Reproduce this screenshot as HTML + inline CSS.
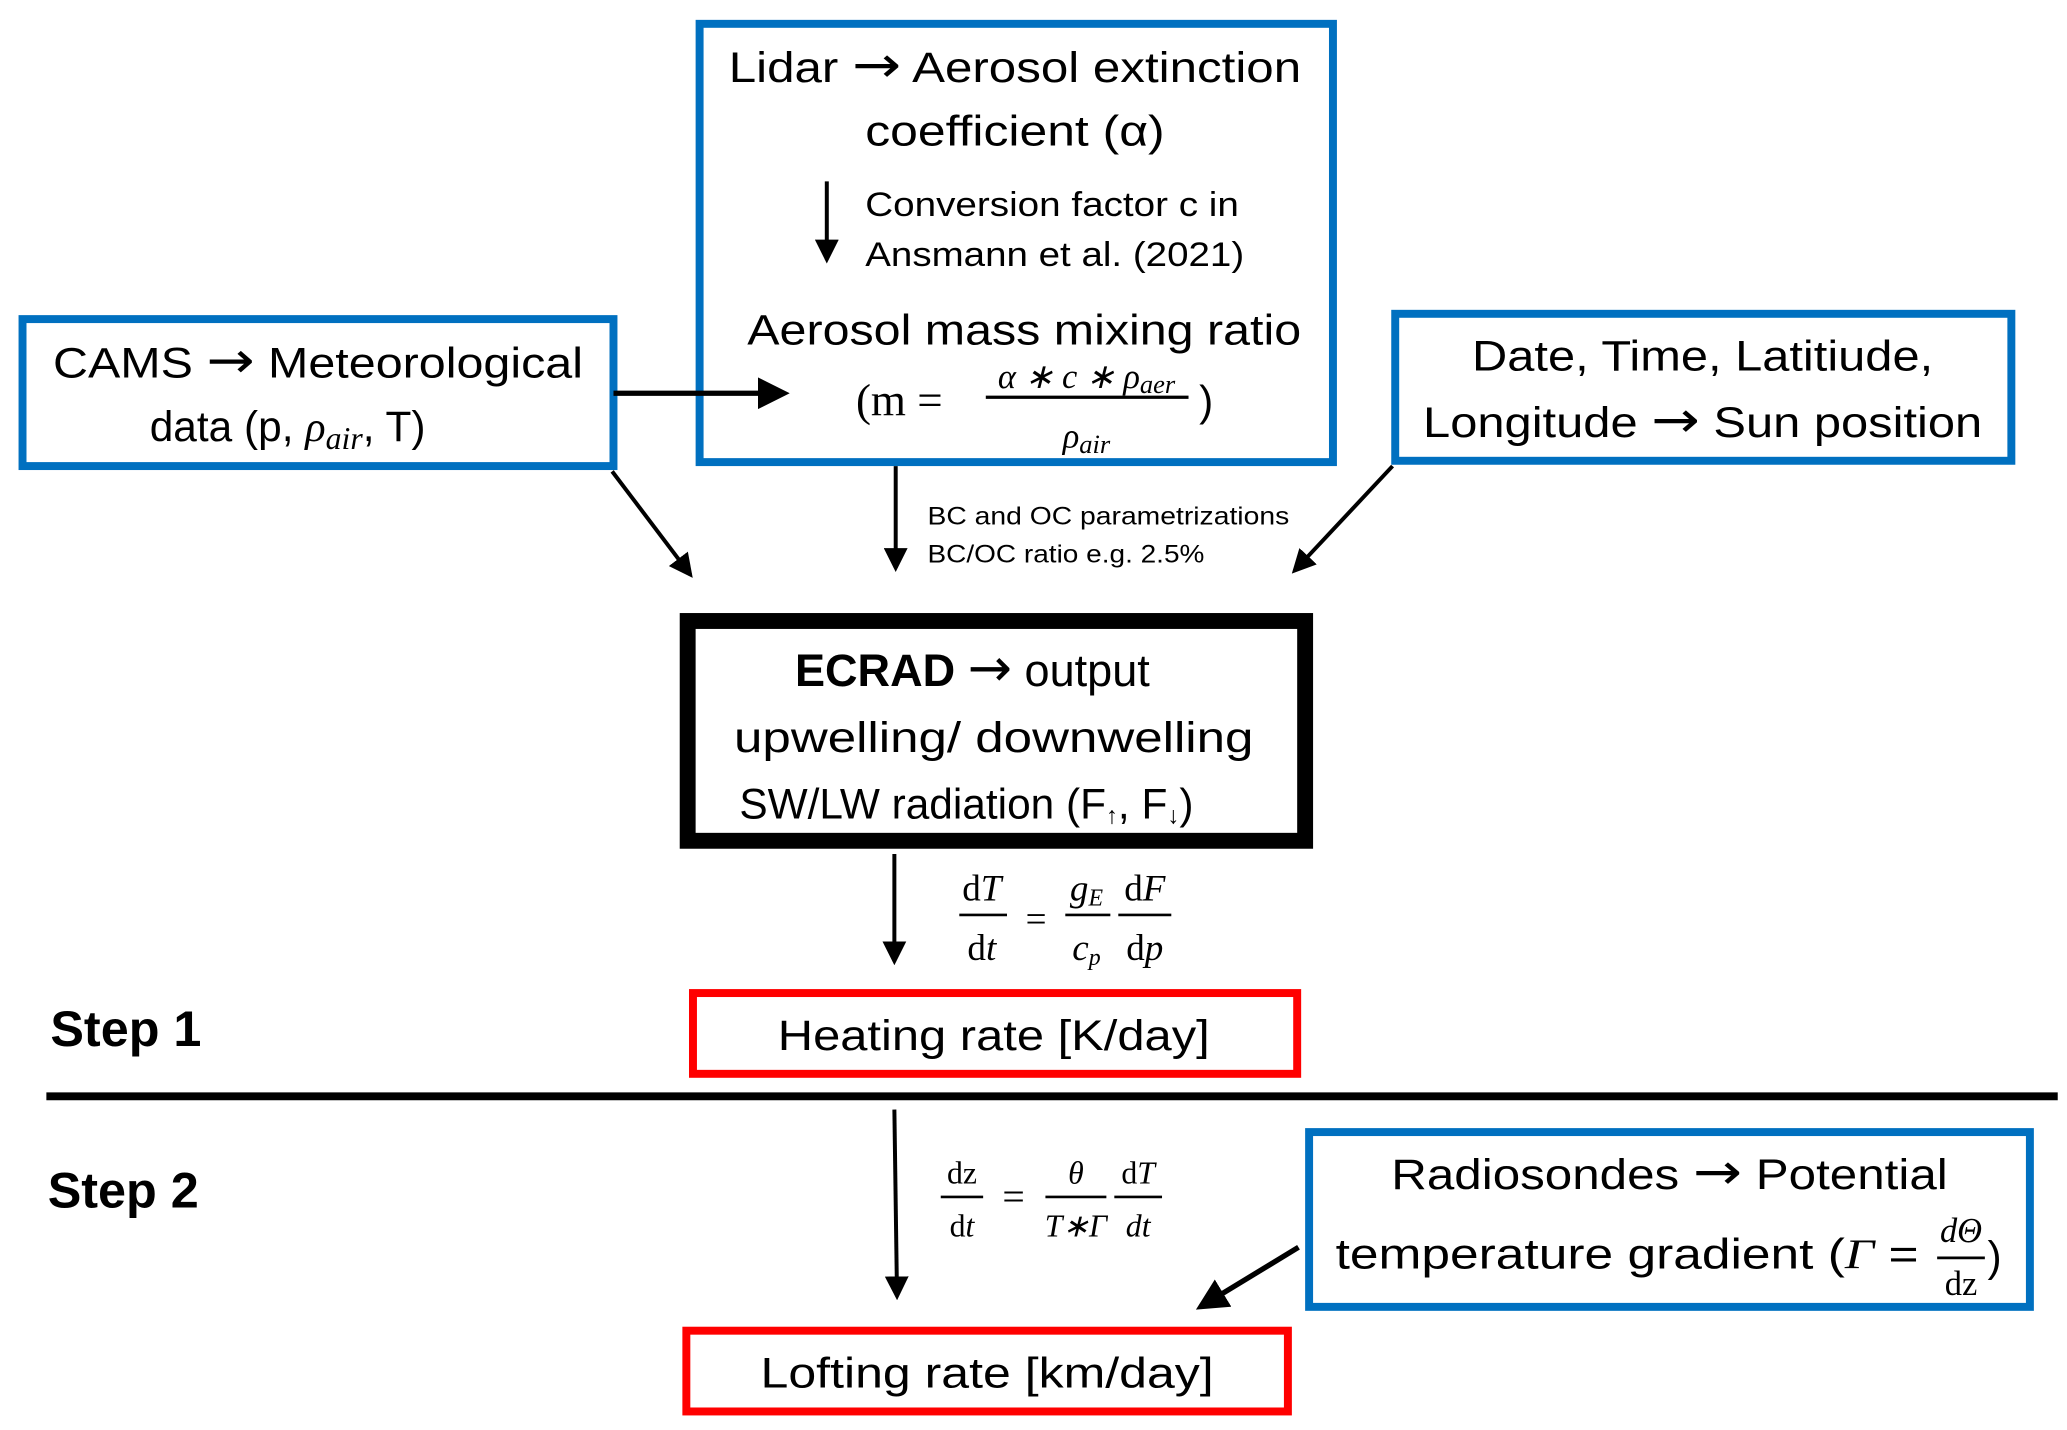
<!DOCTYPE html>
<html><head><meta charset="utf-8"><style>
html,body{margin:0;padding:0;background:#fff;}
svg{display:block;}
text{font-family:"Liberation Sans",sans-serif;fill:#000;}
.m{font-family:"Liberation Serif",serif;}
.ar{font-family:"DejaVu Sans",sans-serif;}
</style></head><body>
<svg width="2067" height="1430" viewBox="0 0 1560 1080" preserveAspectRatio="none" xmlns="http://www.w3.org/2000/svg">
<defs>
<marker id="ah" markerWidth="6" markerHeight="6" refX="5" refY="3" orient="auto" markerUnits="strokeWidth">
<path d="M0,0 L6,3 L0,6 z" fill="#000"/></marker>
</defs>
<g fill="none" stroke="#0070C0" stroke-width="6">
<rect x="528" y="18" width="478" height="331"/>
<rect x="17" y="241" width="446" height="111"/>
<rect x="1053" y="237" width="465" height="111"/>
<rect x="988" y="855" width="544" height="132"/>
</g>
<rect x="519" y="469" width="466" height="166" fill="none" stroke="#000" stroke-width="12"/>
<g fill="none" stroke="#FF0000" stroke-width="6">
<rect x="523" y="750" width="456" height="61"/>
<rect x="518" y="1005" width="454" height="61"/>
</g>
<line x1="35" y1="828" x2="1553" y2="828" stroke="#000" stroke-width="6"/>
<g stroke="#000" stroke-width="3" fill="none">
<line x1="624" y1="137" x2="624" y2="196" marker-end="url(#ah)"/>
<line x1="463" y1="297" x2="592" y2="297" stroke-width="4" marker-end="url(#ah)"/>
<line x1="462" y1="356" x2="521" y2="434" marker-end="url(#ah)"/>
<line x1="676" y1="352" x2="676" y2="429" marker-end="url(#ah)"/>
<line x1="1051" y1="352" x2="977" y2="431" marker-end="url(#ah)"/>
<line x1="675" y1="645" x2="675" y2="726" marker-end="url(#ah)"/>
<line x1="675" y1="838" x2="677" y2="979" marker-end="url(#ah)"/>
<line x1="980" y1="942" x2="906" y2="987" stroke-width="4" marker-end="url(#ah)"/>
</g>
<g font-size="32" text-anchor="middle">
<text x="766" y="62" textLength="432" lengthAdjust="spacingAndGlyphs">Lidar <tspan class="ar" font-size="38">→</tspan> Aerosol extinction</text>
<text x="766" y="110" textLength="226" lengthAdjust="spacingAndGlyphs">coefficient (α)</text>
<text x="773" y="260" textLength="418" lengthAdjust="spacingAndGlyphs">Aerosol mass mixing ratio</text>
<text x="240" y="285" textLength="400" lengthAdjust="spacingAndGlyphs">CAMS <tspan class="ar" font-size="38">→</tspan> Meteorological</text>
<text x="1285" y="280" textLength="348" lengthAdjust="spacingAndGlyphs">Date, Time, Latitiude,</text>
<text x="1285" y="330" textLength="422" lengthAdjust="spacingAndGlyphs">Longitude <tspan class="ar" font-size="38">→</tspan> Sun position</text>
<text x="750" y="568" textLength="392" lengthAdjust="spacingAndGlyphs">upwelling/ downwelling</text>
<text x="750" y="793" textLength="326" lengthAdjust="spacingAndGlyphs">Heating rate [K/day]</text>
<text x="745" y="1048" textLength="342" lengthAdjust="spacingAndGlyphs">Lofting rate [km/day]</text>
<text x="1260" y="898" textLength="420" lengthAdjust="spacingAndGlyphs">Radiosondes <tspan class="ar" font-size="38">→</tspan> Potential</text>
</g>
<text x="113" y="333" font-size="32">data (p, <tspan class="m" font-style="italic">ρ</tspan><tspan class="m" font-style="italic" font-size="24" dy="6">air</tspan><tspan dy="-6">, T)</tspan></text>
<text x="600" y="518" font-size="34"><tspan font-weight="bold">ECRAD</tspan> <tspan class="ar" font-size="40">→</tspan> output</text>
<text x="558" y="618" font-size="32">SW/LW radiation (F<tspan font-size="18" dy="4">↑</tspan><tspan dy="-4">, F</tspan><tspan font-size="18" dy="4">↓</tspan><tspan dy="-4">)</tspan></text>
<text x="1008" y="958" font-size="32" textLength="440" lengthAdjust="spacingAndGlyphs">temperature gradient (<tspan class="m" font-style="italic">Γ</tspan> = </text>
<g class="m" font-size="26" text-anchor="middle">
<text x="1480" y="938" class="m" font-style="italic">dΘ</text>
<line x1="1462" y1="950" x2="1498" y2="950" stroke="#000" stroke-width="2"/>
<text x="1480" y="978" class="m">dz</text>
</g>
<text x="1500" y="960" font-size="32">)</text>
<g font-size="26">
<text x="653" y="163" textLength="282" lengthAdjust="spacingAndGlyphs">Conversion factor c in</text>
<text x="653" y="201" textLength="286" lengthAdjust="spacingAndGlyphs">Ansmann et al. (2021)</text>
</g>
<g font-size="19">
<text x="700" y="396" textLength="273" lengthAdjust="spacingAndGlyphs">BC and OC parametrizations</text>
<text x="700" y="425" textLength="209" lengthAdjust="spacingAndGlyphs">BC/OC ratio e.g. 2.5%</text>
</g>
<g font-size="38" font-weight="bold">
<text x="38" y="790">Step 1</text>
<text x="36" y="912">Step 2</text>
</g>
<g class="m">
<text x="646" y="314" font-size="34" class="m">(m =</text>
<text x="820" y="293" font-size="26" text-anchor="middle" class="m" font-style="italic">α ∗ c ∗ ρ<tspan font-size="20" dy="4">aer</tspan></text>
<line x1="744" y1="300" x2="897" y2="300" stroke="#000" stroke-width="2.5"/>
<text x="820" y="338" font-size="26" text-anchor="middle" class="m" font-style="italic">ρ<tspan font-size="20" dy="4">air</tspan></text>
<text x="905" y="314" font-size="32">)</text>
</g>
<g class="m" font-size="28" text-anchor="middle" stroke="none">
<text x="741" y="680" class="m">d<tspan font-style="italic">T</tspan></text>
<text x="741" y="725" class="m">d<tspan font-style="italic">t</tspan></text>
<text x="782" y="703" class="m">=</text>
<text x="820" y="680" class="m" font-style="italic">g<tspan font-size="18" dy="4">E</tspan></text>
<text x="820" y="725" class="m" font-style="italic">c<tspan font-size="18" dy="4">p</tspan></text>
<text x="864" y="680" class="m">d<tspan font-style="italic">F</tspan></text>
<text x="864" y="725" class="m">d<tspan font-style="italic">p</tspan></text>
</g>
<g stroke="#000" stroke-width="2">
<line x1="724" y1="691" x2="760" y2="691"/>
<line x1="804" y1="691" x2="838" y2="691"/>
<line x1="844" y1="691" x2="884" y2="691"/>
</g>
<g class="m" font-size="24" text-anchor="middle">
<text x="726" y="894" class="m">dz</text>
<text x="726" y="934" class="m">d<tspan font-style="italic">t</tspan></text>
<text x="765" y="914" class="m" font-size="30">=</text>
<text x="812" y="894" class="m" font-style="italic">θ</text>
<text x="812" y="934" class="m" font-style="italic">T∗Γ</text>
<text x="859" y="894" class="m">d<tspan font-style="italic">T</tspan></text>
<text x="859" y="934" class="m" font-style="italic">dt</text>
</g>
<g stroke="#000" stroke-width="2">
<line x1="710" y1="904" x2="742" y2="904"/>
<line x1="789" y1="904" x2="835" y2="904"/>
<line x1="841" y1="904" x2="877" y2="904"/>
</g>
</svg>
</body></html>
